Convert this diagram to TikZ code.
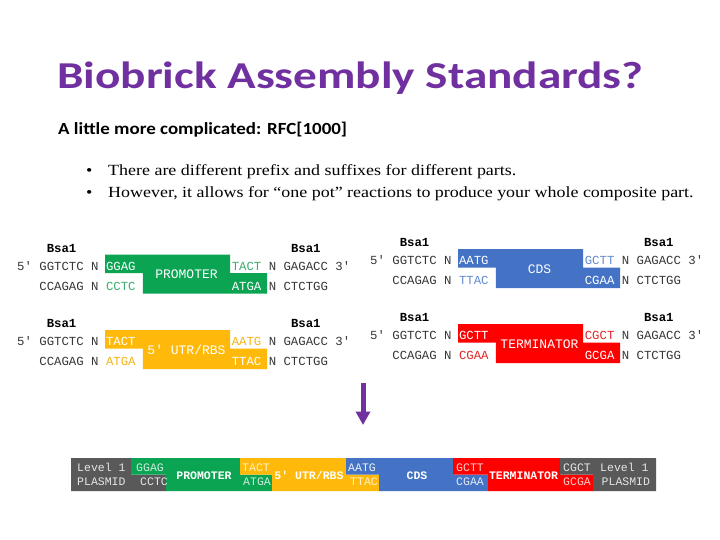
\documentclass[tikz,border=0pt]{standalone}
\usepackage{fontspec}
\setmainfont{Liberation Serif}
\newfontfamily\mono{Liberation Mono}
\newfontfamily\titlefont{Carlito}
\usetikzlibrary{arrows.meta}
\definecolor{pgreen}{RGB}{10,164,82}
\definecolor{porange}{RGB}{255,185,10}
\definecolor{pblue}{RGB}{68,114,196}
\definecolor{pred}{RGB}{255,0,0}
\definecolor{pgray}{RGB}{89,89,89}
\definecolor{ppurple}{RGB}{112,48,160}
\definecolor{seqtext}{RGB}{55,55,55}
\definecolor{tgreen}{RGB}{60,175,110}
\definecolor{torange}{RGB}{245,180,20}
\definecolor{tblue}{RGB}{100,140,210}
\definecolor{tred}{RGB}{225,40,40}
\def\pitch{7.4}
\tikzset{
  seq/.style={font=\mono\fontsize{12.33}{14}\selectfont, anchor=base west, inner sep=0pt, text=seqtext},
  bsa/.style={font=\mono\bfseries\fontsize{12.33}{14}\selectfont, anchor=base west, inner sep=0pt, text=black},
  plabel/.style={font=\mono\fontsize{13}{15}\selectfont, anchor=center, inner sep=0pt, text=white},
  barseq/.style={font=\mono\fontsize{11.5}{13}\selectfont, anchor=base west, inner sep=0pt},
  barlabel/.style={font=\mono\bfseries\fontsize{11.5}{13}\selectfont, anchor=base, inner sep=0pt, text=white},
  bodytext/.style={anchor=base west, inner sep=0pt, font=\fontsize{15.5}{18}\selectfont},
}
% #1 prefix, #2 x0, #3 baseline of top row, #4 fill, #5 outside text colour, #6 TL, #7 TR, #8 BL, #9 BR
\newcommand\dnapart[9]{%
  \fill[#4] ({#2+11.9*\pitch},{#3-15.5}) -- ({#2+28.8*\pitch},{#3-15.5}) -- ({#2+28.8*\pitch},{#3+3}) -- ({#2+33.8*\pitch},{#3+3}) -- ({#2+33.8*\pitch},{#3+23.5}) -- ({#2+17*\pitch},{#3+23.5}) -- ({#2+17*\pitch},{#3+3}) -- ({#2+11.9*\pitch},{#3+3}) -- cycle;
  \node[bsa] (#1-bsaL) at ({#2+4*\pitch},{#3-18}) {Bsa1};
  \node[bsa] (#1-bsaR) at ({#2+37*\pitch},{#3-18}) {Bsa1};
  \node[seq] (#1-a) at (#2,#3) {5' GGTCTC N};
  \node[seq,text=white] (#1-tl) at ({#2+12*\pitch},#3) {#6};
  \node[seq,text=#5] (#1-tr) at ({#2+29*\pitch},#3) {#7};
  \node[seq] (#1-b) at ({#2+34*\pitch},#3) {N GAGACC 3'};
  \node[seq] (#1-c) at ({#2+3*\pitch},{#3+20}) {CCAGAG N};
  \node[seq,text=#5] (#1-bl) at ({#2+12*\pitch},{#3+20}) {#8};
  \node[seq,text=white] (#1-br) at ({#2+29*\pitch},{#3+20}) {#9};
  \node[seq] (#1-d) at ({#2+34*\pitch},{#3+20}) {N CTCTGG};
}
% #1 colour, #2 top-left x, #3 top-right x, #4 bottom-left x, #5 bottom-right x
\newcommand\barseg[5]{%
  \fill[#1] (#2,458) -- (#3,458) -- (#3,474.5) -- (#5,474.5) -- (#5,491) -- (#4,491) -- (#4,474.5) -- (#2,474.5) -- cycle;
}
\begin{document}
\begin{tikzpicture}[x=1pt,y=-1pt]
\useasboundingbox (0,0) rectangle (720,540);
\fill[white] (0,0) rectangle (720,540);

% title and text
\node[anchor=base west, inner sep=0pt, font=\titlefont\bfseries\fontsize{38}{40}\selectfont, text=ppurple] (title) at (57,89) {\scalebox{1.242}[1]{Biobrick Assembly Standards?}};
\node[anchor=base west, inner sep=0pt, font=\titlefont\bfseries\fontsize{17}{20}\selectfont] (subtitle) at (58,135) {\scalebox{1.115}[1]{A little more complicated: RFC[1000]}};
\node[bodytext] (b1) at (86,176) {\scalebox{1.158}[1]{•}};
\node[bodytext] (t1) at (108,176) {\scalebox{1.158}[1]{There are different prefix and suffixes for different parts.}};
\node[bodytext] (b2) at (86,197.5) {\scalebox{1.158}[1]{•}};
\node[bodytext] (t2) at (108,197.5) {\scalebox{1.158}[1]{However, it allows for “one pot” reactions to produce your whole composite part.}};

% parts
\dnapart{pro}{17}{270}{pgreen}{tgreen}{GGAG}{TACT}{CCTC}{ATGA}
\node[plabel] (prolab) at ({17+22.9*\pitch},274.5) {PROMOTER};
\dnapart{utr}{17}{345.5}{porange}{torange}{TACT}{AATG}{ATGA}{TTAC}
\node[plabel] (utrlab) at ({17+22.9*\pitch},350) {5' UTR/RBS};
\dnapart{cds}{370}{264.5}{pblue}{tblue}{AATG}{GCTT}{TTAC}{CGAA}
\node[plabel] (cdslab) at ({370+22.9*\pitch},269) {CDS};
\dnapart{ter}{370}{339.5}{pred}{tred}{GCTT}{CGCT}{CGAA}{GCGA}
\node[plabel] (terlab) at ({370+22.9*\pitch},344) {TERMINATOR};

% arrow
\coordinate (arrS) at (363,383);
\coordinate (arrE) at (363,425);
\draw[ppurple, line width=5pt, -{Triangle[width=14pt,length=13.5pt]}] (arrS) -- (arrE);

% assembled bar
\barseg{pgray}{71}{131}{71}{166}
\barseg{pgreen}{131}{240}{166}{272}
\barseg{porange}{240}{346}{272}{379}
\barseg{pblue}{346}{453}{379}{488}
\barseg{pred}{453}{560}{488}{593}
\barseg{pgray}{560}{656}{593}{656}

\node[barseq, text=white!85!pgray] (lv1) at (77,471) {Level 1};
\node[barseq, text=white!85!pgray] (pl1) at (77,485) {PLASMID};
\node[barseq, text=white!80!pgreen] (s1) at (136,471) {GGAG};
\node[barseq, text=white!85!pgray] (s2) at (140,485) {CCTC};
\node[barlabel] (bpro) at (204,479) {PROMOTER};
\node[barseq, text=white!80!porange] (s3) at (242,471) {TACT};
\node[barseq, text=white!80!pgreen] (s4) at (243,485) {ATGA};
\node[barlabel] (butr) at (309,479) {5' UTR/RBS};
\node[barseq, text=white!90!pblue] (s5) at (348,471) {AATG};
\node[barseq, text=white!80!porange] (s6) at (350,485) {TTAC};
\node[barlabel] (bcds) at (417,479) {CDS};
\node[barseq, text=white!80!pred] (s7) at (456,471) {GCTT};
\node[barseq, text=white!85!pblue] (s8) at (456,485) {CGAA};
\node[barlabel] (bter) at (523.5,479) {TERMINATOR};
\node[barseq, text=white!85!pgray] (s9) at (563,471) {CGCT};
\node[barseq, text=white!80!pred] (s10) at (563,485) {GCGA};
\node[barseq, text=white!85!pgray] (lv2) at (600,471) {Level 1};
\node[barseq, text=white!85!pgray] (pl2) at (601.5,485) {PLASMID};
\end{tikzpicture}
\end{document}
